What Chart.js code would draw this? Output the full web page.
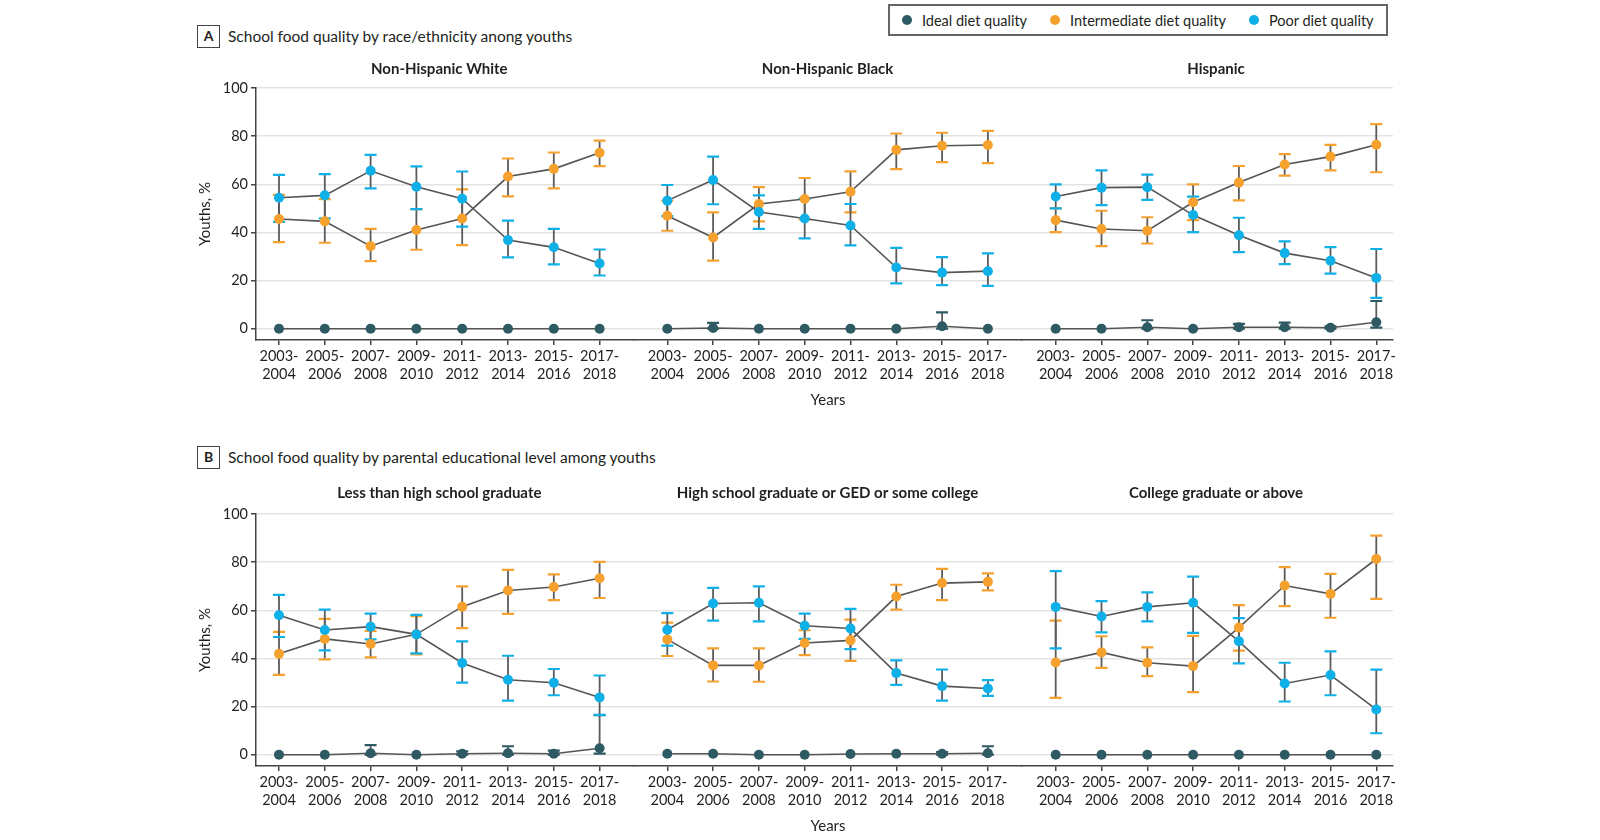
<!DOCTYPE html>
<html>
<head>
<meta charset="utf-8">
<title>School food quality among youths</title>
<script src="https://cdn.jsdelivr.net/npm/chart.js@4.4.0/dist/chart.umd.min.js"></script>
<style>
body{margin:0;background:#fff;font-family:Lato,"Noto Sans",sans-serif;color:#231f20}
#wrap{position:relative;width:1600px;height:840px;overflow:hidden}
.panel{position:absolute}
.hd{position:absolute;left:197px;font-size:15.5px;line-height:23px;white-space:nowrap}
.hd b{display:inline-block;box-sizing:border-box;width:23px;height:23px;border:1.5px solid #444;text-align:center;line-height:20px;margin-right:8px;font-size:14px;vertical-align:top}
#legend{position:absolute;left:888px;top:4px;width:500px;height:32px;box-sizing:border-box;border:2px solid #666;display:flex;align-items:center;padding-left:12px;font-size:14.5px;white-space:nowrap;overflow:hidden}
#legend span{display:inline-flex;align-items:center;flex-shrink:0;margin-right:23px}
#legend i{display:inline-block;width:10px;height:10px;border-radius:50%;margin-right:10px}
</style>
</head>
<body>
<div id="wrap">
	<div class="hd" style="top:25px"><b>A</b>School food quality by race/ethnicity anong youths</div>
	<div class="hd" style="top:446px"><b>B</b>School food quality by parental educational level among youths</div>
	<div id="legend"></div>
</div>
<script>
const years = [['2003-','2004'],['2005-','2006'],['2007-','2008'],['2009-','2010'],['2011-','2012'],['2013-','2014'],['2015-','2016'],['2017-','2018']]
const yTicks = [0,20,40,60,80,100]
const seriesNames = ['Ideal diet quality','Intermediate diet quality','Poor diet quality']
const seriesColors = ['#2e5a63','#f6a12e','#0fb0e8']

// A: race/ethnicity
const whiteIdeal = [0,0,0,0,0,0,0,0]
const whiteIdealCI = [null,null,null,null,null,null,null,null]
const whiteInter = [45.6,44.6,34.3,41.0,45.8,63.2,66.4,73.1]
const whiteInterCI = [[36.0,55.6],[35.7,53.8],[28.1,41.5],[32.8,49.7],[34.7,57.9],[55.0,70.7],[58.3,73.2],[67.5,78.1]]
const whitePoor = [54.4,55.4,65.6,59.0,54.0,36.8,33.8,27.1]
const whitePoorCI = [[44.4,63.9],[45.8,64.2],[58.3,72.2],[49.7,67.4],[42.4,65.3],[29.6,44.9],[26.7,41.5],[22.1,32.9]]

const blackIdeal = [0,0.3,0,0,0,0,1.0,0]
const blackIdealCI = [null,[0,2.4],null,null,null,null,[0,6.8],null]
const blackInter = [46.9,37.9,51.8,53.9,56.9,74.3,76.0,76.3]
const blackInterCI = [[40.7,53.2],[28.3,48.3],[44.6,58.8],[45.4,62.6],[48.3,65.4],[66.3,81.1],[69.2,81.4],[68.8,82.2]]
const blackPoor = [53.2,61.8,48.5,45.8,42.9,25.4,23.3,23.9]
const blackPoorCI = [[46.8,59.7],[51.7,71.5],[41.5,55.4],[37.5,54.0],[34.6,51.8],[18.8,33.6],[18.1,29.7],[17.8,31.3]]

const hispIdeal = [0,0,0.6,0,0.6,0.6,0.4,2.7]
const hispIdealCI = [null,null,[0,3.5],null,[0,2.0],[0,2.5],[0,1.0],[0.4,11.5]]
const hispInter = [45.1,41.4,40.7,52.5,60.7,68.2,71.5,76.4]
const hispInterCI = [[40.1,50.0],[34.3,49.0],[35.4,46.3],[45.1,60.0],[53.3,67.6],[63.6,72.5],[65.8,76.4],[65.0,85.0]]
const hispPoor = [54.9,58.6,58.8,47.2,38.8,31.4,28.2,21.1]
const hispPoorCI = [[50.0,60.0],[51.3,65.8],[53.5,64.0],[40.1,54.9],[31.8,46.1],[26.8,36.3],[22.9,33.9],[12.8,33.1]]

// B: parental education
const lessIdeal = [0,0,0.6,0,0.4,0.6,0.4,2.7]
const lessIdealCI = [null,null,[0,4.0],null,[0,1.4],[0,3.5],[0,1.7],[0.4,16.4]]
const lessInter = [41.9,48.1,46.0,50.0,61.5,68.2,69.7,73.3]
const lessInterCI = [[33.2,51.0],[39.6,56.4],[40.4,51.4],[41.7,57.6],[52.6,69.9],[58.5,76.8],[64.2,74.9],[65.1,80.1]]
const lessPoor = [57.9,51.8,53.2,50.0,38.1,31.1,29.9,23.8]
const lessPoorCI = [[48.9,66.4],[43.3,60.3],[47.9,58.6],[42.1,58.1],[29.9,47.1],[22.5,41.1],[24.7,35.6],[16.5,32.9]]

const hsIdeal = [0.4,0.4,0,0,0.3,0.4,0.4,0.6]
const hsIdealCI = [null,null,null,null,null,null,[0,1.1],[0,3.5]]
const hsInter = [47.9,37.1,37.1,46.4,47.5,65.7,71.3,71.8]
const hsInterCI = [[41.0,54.9],[30.4,44.2],[30.3,44.2],[41.4,51.7],[39.0,56.1],[60.3,70.6],[64.2,77.2],[68.3,75.3]]
const hsPoor = [51.9,62.8,63.1,53.6,52.4,33.9,28.5,27.5]
const hsPoorCI = [[45.3,58.8],[55.7,69.3],[55.4,69.9],[48.1,58.6],[43.9,60.6],[29.0,39.2],[22.5,35.4],[24.4,31.0]]

const collIdeal = [0,0,0,0,0,0,0,0]
const collIdealCI = [null,null,null,null,null,null,null,null]
const collInter = [38.3,42.5,38.2,36.8,52.8,70.3,66.8,81.3]
const collInterCI = [[23.6,55.7],[36.1,49.2],[32.6,44.6],[26.0,49.4],[43.2,62.1],[61.7,77.9],[56.9,75.1],[64.7,91.0]]
const collPoor = [61.4,57.4,61.4,63.1,47.1,29.6,33.1,18.8]
const collPoorCI = [[44.2,76.3],[50.8,63.8],[55.4,67.4],[50.6,74.0],[37.9,56.7],[22.1,38.2],[24.7,42.9],[8.9,35.3]]

let panels = [
	{title:'Non-Hispanic White', row:0, col:0, ideal:[whiteIdeal,whiteIdealCI], inter:[whiteInter,whiteInterCI], poor:[whitePoor,whitePoorCI]},
	{title:'Non-Hispanic Black', row:0, col:1, ideal:[blackIdeal,blackIdealCI], inter:[blackInter,blackInterCI], poor:[blackPoor,blackPoorCI]},
	{title:'Hispanic', row:0, col:2, ideal:[hispIdeal,hispIdealCI], inter:[hispInter,hispInterCI], poor:[hispPoor,hispPoorCI]},
	{title:'Less than high school graduate', row:1, col:0, ideal:[lessIdeal,lessIdealCI], inter:[lessInter,lessInterCI], poor:[lessPoor,lessPoorCI]},
	{title:'High school graduate or GED or some college', row:1, col:1, ideal:[hsIdeal,hsIdealCI], inter:[hsInter,hsInterCI], poor:[hsPoor,hsPoorCI]},
	{title:'College graduate or above', row:1, col:2, ideal:[collIdeal,collIdealCI], inter:[collInter,collInterCI], poor:[collPoor,collPoorCI]}
]

// canvas boxes, so that the plot areas of a row sit edge to edge
let rows = [{top:60, height:350, titlePad:10}, {top:484, height:352, titlePad:12}]
let cols = [
	{left:180, width:474, padL:0, padR:20, yw:76, min:-0.502, max:7.751},
	{left:614, width:428, padL:20, padR:20, yw:0, min:-0.727, max:7.745},
	{left:1002, width:411, padL:20, padR:20, yw:0, min:-0.736, max:7.365}
]

let font = 'Lato'
let ink = '#231f20'
let axisColor = '#444'

let errorBars = {
	id:'errorBars',
	beforeDatasetsDraw(chart){
		let ctx = chart.ctx
		let y = chart.scales.y
		chart.data.datasets.forEach((ds,d)=>{
			let meta = chart.getDatasetMeta(d)
			ds.ci.forEach((c,i)=>{
				if(!c) return
				let x = meta.data[i].x
				let lo = y.getPixelForValue(c[0])
				let hi = y.getPixelForValue(c[1])
				ctx.save()
				ctx.strokeStyle = '#5b5b5b'
				ctx.lineWidth = 1.8
				ctx.beginPath()
				ctx.moveTo(x,lo)
				ctx.lineTo(x,hi)
				ctx.stroke()
				ctx.strokeStyle = ds.pointBackgroundColor
				ctx.lineWidth = 2.2
				ctx.beginPath()
				ctx.moveTo(x-6,lo); ctx.lineTo(x+6,lo)
				ctx.moveTo(x-6,hi); ctx.lineTo(x+6,hi)
				ctx.stroke()
				ctx.restore()
			})
		})
	}
}

// panel titles sit over the middle of the tick span, not the plot area
let centerTitle = {
	id:'centerTitle',
	afterLayout(chart){
		let x = chart.scales.x
		let t = chart.titleBlock
		let mid = (x.getPixelForValue(0)+x.getPixelForValue(years.length-1))/2
		let w = t.right-t.left
		t.left = mid-w/2
		t.right = mid+w/2
	}
}

let series = (name,color,pair,order)=>({
	label:name,
	data:pair[0].map((v,i)=>({x:i,y:v})),
	ci:pair[1],
	order:order,
	borderColor:'#555',
	borderWidth:1.6,
	pointRadius:5,
	pointHoverRadius:5,
	pointBorderWidth:0,
	pointBackgroundColor:color,
	pointBorderColor:color,
	tension:0,
	fill:false
})

let makePanel = p=>{
	let r = rows[p.row], c = cols[p.col]
	let box = document.createElement('div')
	box.className = 'panel'
	box.style.left = c.left+'px'
	box.style.top = r.top+'px'
	box.style.width = c.width+'px'
	box.style.height = r.height+'px'
	let cv = document.createElement('canvas')
	box.appendChild(cv)
	document.getElementById('wrap').appendChild(box)
	let first = p.col===0
	new Chart(cv,{
		type:'line',
		data:{datasets:[
			series(seriesNames[0],seriesColors[0],p.ideal,2),
			series(seriesNames[1],seriesColors[1],p.inter,1),
			series(seriesNames[2],seriesColors[2],p.poor,0)
		]},
		options:{
			responsive:true,
			maintainAspectRatio:false,
			animation:false,
			events:[],
			layout:{padding:{left:c.padL,right:c.padR,top:0,bottom:0}},
			plugins:{
				legend:{display:false},
				tooltip:{enabled:false},
				title:{display:true,fullSize:false,text:p.title,color:ink,font:{family:font,size:15,weight:'bold'},padding:{top:0,bottom:r.titlePad}}
			},
			scales:{
				x:{
					type:'linear',
					min:c.min,
					max:c.max,
					afterBuildTicks:s=>{s.ticks=years.map((v,i)=>({value:i}))},
					afterFit:s=>{s.height=70},
					ticks:{callback:v=>years[v],color:ink,font:{family:font,size:14.5,lineHeight:1.2},padding:3,maxRotation:0,autoSkip:false},
					grid:{display:true,drawOnChartArea:false,drawTicks:true,tickLength:5,tickColor:axisColor,lineWidth:1.5},
					border:{display:true,color:axisColor,width:1.5},
					title:{display:p.col===1,text:'Years',color:ink,font:{family:font,size:15},padding:{top:0,bottom:1}}
				},
				y:{
					min:-4.7,
					max:100,
					afterBuildTicks:s=>{s.ticks=yTicks.map(v=>({value:v}))},
					afterFit:s=>{s.width=c.yw},
					ticks:{display:first,color:ink,font:{family:font,size:14.5},padding:3},
					grid:{color:'#e3e3e3',lineWidth:1.5,drawTicks:first,tickLength:5,tickColor:axisColor},
					border:{display:first,color:axisColor,width:1.5},
					title:{display:first,text:'Youths, %',color:ink,font:{family:font,size:15},padding:{top:16,bottom:0}}
				}
			}
		},
		plugins:[errorBars,centerTitle]
	})
}

panels.forEach(makePanel)

let legend = document.getElementById('legend')
seriesNames.forEach((n,i)=>{
	let s = document.createElement('span')
	s.innerHTML = '<i style="background:'+seriesColors[i]+'"></i>'+n
	legend.appendChild(s)
})
</script>
</body>
</html>
